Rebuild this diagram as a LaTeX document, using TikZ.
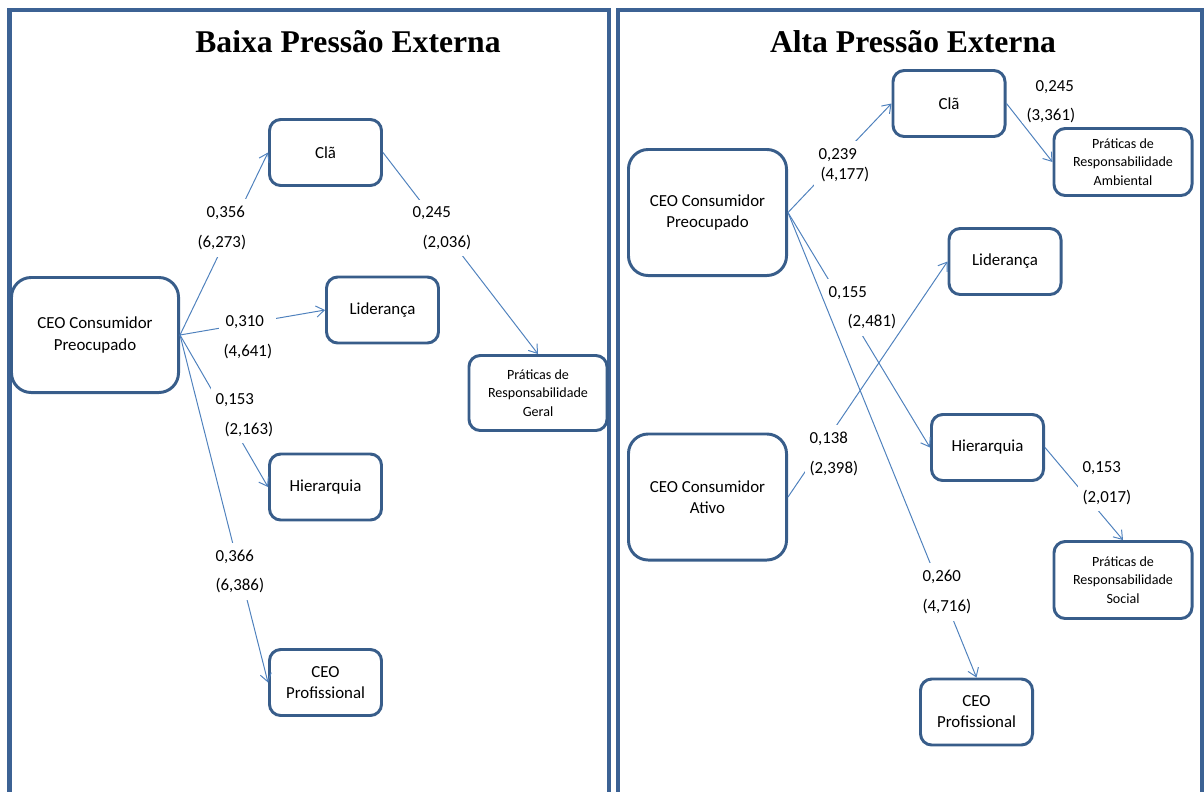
\documentclass[tikz,border=0pt]{standalone}
\usepackage{fontspec}
\setmainfont{Carlito}
\newfontfamily\titlefont{Liberation Serif}
\usetikzlibrary{arrows.meta}
\definecolor{boxblue}{RGB}{56,93,138}
\definecolor{panelblue}{RGB}{60,98,148}
\definecolor{lineblue}{RGB}{79,129,189}

\begin{document}
\begin{tikzpicture}[x=0.025cm, y=-0.025cm,
    panel/.style={draw=panelblue, line width=2.85pt},
    title/.style={font=\titlefont\bfseries\fontsize{22.5}{27}\selectfont},
    constr/.style={draw=boxblue, line width=2.1pt, rounded corners=8pt, fill=white,
        minimum width=2.8cm, minimum height=1.65cm, align=center, inner sep=0pt,
        font=\fontsize{12}{15}\selectfont},
    ceo/.style={constr, rounded corners=14pt},
    pract/.style={constr, minimum width=3.45cm, font=\fontsize{10}{13}\selectfont},
    lbl/.style={fill=white, anchor=west, align=left, inner xsep=3pt, inner ysep=5pt,
        font=\fontsize{12}{21}\selectfont},
    flow/.style={-{Straight Barb[length=2mm,width=2.8mm]}, draw=lineblue, line width=0.7pt}
]
\useasboundingbox (0,0) rectangle (1204,791);
\clip (0,0) rectangle (1204,791);
% panels
\draw[panel] (9.5,10) rectangle (609,830);
\draw[panel] (618,10) rectangle (1202,830);
\node[title] (ttlL) at (348,42) {Baixa Pressão Externa};
\node[title] (ttlR) at (913,42) {Alta Pressão Externa};

% baixa pressao
\node[ceo, minimum width=4.175cm, minimum height=2.875cm] (ceoL) at (95,335)
    {CEO Consumidor\\Preocupado};
\node[constr] (claL) at (325.5,152.5) {Clã};
\node[constr] (lidL) at (382.5,310) {Liderança};
\node[constr] (hieL) at (325.5,487) {Hierarquia};
\node[constr] (profL) at (325.5,682.5) {CEO\\Profissional};
\node[pract, minimum height=1.875cm] (geralL) at (538,393)
    {Práticas de\\Responsabilidade\\Geral};

% alta pressao
\node[ceo, minimum width=3.95cm, minimum height=3.15cm] (ceoPR) at (707.5,212.5)
    {CEO Consumidor\\Preocupado};
\node[ceo, minimum width=3.95cm, minimum height=3.15cm] (ativoR) at (707.5,497)
    {CEO Consumidor\\Ativo};
\node[constr] (claR) at (949,103.5) {Clã};
\node[constr] (lidR) at (1005,261.5) {Liderança};
\node[constr] (hieR) at (987.5,447.5) {Hierarquia};
\node[constr] (profR) at (976.5,712) {CEO\\Profissional};
\node[pract, minimum height=1.675cm] (ambR) at (1123,162)
    {Práticas de\\Responsabilidade\\Ambiental};
\node[pract, minimum height=1.925cm] (socR) at (1123,580)
    {Práticas de\\Responsabilidade\\Social};

% caminhos (labels cover the lines)
\draw[flow] (ceoL.east) -- (claL.west);
\draw[flow] (ceoL.east) -- (lidL.west);
\draw[flow] (ceoL.east) -- (hieL.west);
\draw[flow] (ceoL.east) -- (profL.west);
\draw[flow] (claL.east) -- (geralL.north);
\draw[flow] (ceoPR.east) -- (claR.west);
\draw[flow] (claR.east) -- (ambR.west);
\draw[flow] (ceoPR.east) -- (hieR.west);
\draw[flow] (hieR.east) -- (socR.north);

\node[lbl] (cL1) at (193,228) {\hspace*{2.25mm}0,356\\(6,273)};
\node[lbl] (cL2) at (408,228) {0,245\\\hspace*{2.5mm}(2,036)};
\node[lbl] (cL3) at (219,337) {\hspace*{0.5mm}0,310\\(4,641)};
\node[lbl] (cL4) at (211,415) {0,153\\\hspace*{2.25mm}(2,163)};
\node[lbl] (cL5) at (211,571.5) {0,366\\(6,386)};
\node[lbl] (cR1) at (814,165) {0,239\\[-7pt]\hspace*{0.5mm}(4,177)};
\node[lbl, inner ysep=0pt] (cR2) at (1022,101.5) {\hspace*{2.25mm}0,245\\(3,361)};
\node[lbl] (cR3) at (824,307.5) {0,155\\\hspace*{4.75mm}(2,481)};
\node[lbl] (cR5) at (1078,483) {0,153\\(2,017)};

\draw[flow] (ativoR.east) -- (lidR.west);
\node[lbl] (cR4) at (805,454) {0,138\\(2,398)};
\draw[flow] (ceoPR.east) -- (profR.north);
\node[lbl] (cR6) at (918,592) {0,260\\(4,716)};
\end{tikzpicture}
\end{document}
